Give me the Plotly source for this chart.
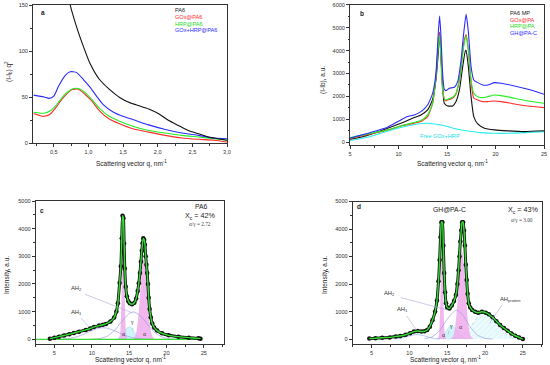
import plotly.graph_objects as go

W, H = 550, 365

# ---------------- Panel a data ----------------
a_q_pa6 = [0.66, 0.737, 0.83, 0.927, 1.02, 1.16, 1.30, 1.45, 1.59, 1.73, 1.87, 2.02, 2.16, 2.30, 2.44, 2.59, 2.73, 2.87, 3.0]
a_v_pa6 = [185, 150, 126, 105, 87, 69, 58.5, 49.5, 44, 40.5, 37, 31.6, 24.4, 19, 13.6, 10, 6.5, 4.7, 3]
a_q_blue = [0.21, 0.36, 0.43, 0.50, 0.57, 0.666, 0.737, 0.83, 0.927, 1.02, 1.116, 1.21, 1.35, 1.495, 1.64, 1.87, 2.11, 2.35, 2.59, 2.82, 3.0]
a_v_blue = [52, 50, 48.5, 51, 62, 73.6, 77.5, 76.5, 69, 61, 51, 42, 34, 29, 25.5, 19.7, 14.7, 10.8, 8.3, 5.4, 4.7]
a_q_red = [0.21, 0.29, 0.36, 0.45, 0.55, 0.64, 0.76, 0.855, 0.95, 1.045, 1.16, 1.30, 1.45, 1.64, 1.87, 2.11, 2.35, 2.59, 2.82, 3.0]
a_v_red = [32, 30, 29, 31.6, 40.6, 49.5, 57.8, 58.5, 53, 46, 35, 26, 20.8, 15.4, 11.8, 8.3, 5.4, 4, 3, 1]
a_q_green = [0.21, 0.36, 0.45, 0.55, 0.64, 0.76, 0.855, 0.95, 1.045, 1.16, 1.30, 1.45, 1.64, 1.87, 2.11, 2.35, 2.59, 2.82, 3.0]
a_v_green = [33.4, 32.3, 35, 42.4, 51.3, 58.5, 59.2, 55, 47.7, 37.7, 29, 23.7, 18.3, 13.6, 10.8, 8.3, 6.5, 4.7, 3]
a_names = ["PA6", "GOx@PA6", "HRP@PA6", "GOx+HRP@PA6"]
a_xticks = [0.5, 1.0, 1.5, 2.0, 2.5, 3.0]
a_xticktext = ["0,5", "1,0", "1,5", "2,0", "2,5", "3,0"]

# ---------------- Panel b data ----------------
b_q_black = [5, 6.1, 7.48, 8.86, 10.24, 11.28, 12.31, 13.0, 13.5, 13.86, 14.1, 14.24, 14.38, 14.55, 14.72, 15.07, 15.59, 15.93, 16.28, 16.62, 16.9, 16.97, 17.2, 17.48, 17.76, 18.17, 18.86, 19.9, 21.28, 23.0, 25]
b_v_black = [131, 218, 392, 610, 828, 1017, 1191, 1409, 1845, 2717, 3880, 4800, 3734, 2426, 1700, 1584, 1584, 1773, 2281, 3298, 4000, 4000, 3298, 1990, 1119, 799, 610, 538, 494, 465, 500]
b_q_blue = [5, 7.48, 8.86, 10.24, 10.93, 11.62, 12.31, 13.0, 13.52, 13.86, 14.1, 14.24, 14.38, 14.55, 14.72, 14.9, 15.24, 15.76, 16.1, 16.45, 16.72, 16.97, 17.2, 17.48, 17.76, 18.17, 18.69, 19.2, 19.9, 20.6, 21.97, 23.35, 25]
b_v_blue = [174, 465, 654, 973, 1119, 1191, 1337, 1627, 2136, 3008, 4751, 5500, 4606, 3008, 2310, 2252, 2354, 2397, 2644, 3589, 4751, 5580, 4824, 3298, 2717, 2600, 2499, 2499, 2600, 2572, 2455, 2310, 2092]
b_q_green = [5, 7.48, 8.86, 10.24, 11.28, 12.31, 13.0, 13.52, 13.86, 14.1, 14.24, 14.38, 14.55, 14.79, 15.07, 15.59, 15.93, 16.38, 16.72, 16.97, 17.2, 17.48, 17.76, 18.17, 18.69, 19.2, 19.9, 20.6, 21.97, 23.35, 25]
b_v_green = [203, 421, 538, 712, 828, 944, 1191, 1700, 2862, 4170, 4650, 3589, 2281, 1845, 1874, 1962, 2136, 3008, 4170, 4650, 4025, 2717, 2136, 1990, 1947, 1990, 2063, 2034, 1918, 1802, 1700]
b_q_red = [5, 7.48, 8.86, 10.24, 11.28, 12.31, 13.0, 13.52, 13.86, 14.1, 14.24, 14.38, 14.55, 14.79, 15.07, 15.59, 15.93, 16.38, 16.72, 16.97, 17.2, 17.48, 17.76, 18.17, 18.69, 19.2, 19.9, 20.6, 21.97, 23.35, 25]
b_v_red = [170, 392, 538, 712, 799, 900, 1119, 1700, 2862, 4315, 4750, 3661, 2281, 1816, 1845, 1932, 2107, 2979, 4315, 4700, 4025, 2644, 1918, 1845, 1773, 1773, 1802, 1773, 1671, 1584, 1511]
b_q_cyan = [5, 6.8, 8.17, 9.55, 10.93, 11.97, 13.0, 13.69, 14.38, 15.07, 16.1, 17.14, 18.52, 19.9, 21.28, 23.0, 25]
b_v_cyan = [73, 218, 392, 567, 712, 799, 828, 799, 755, 683, 567, 494, 421, 392, 392, 421, 465]
b_names = ["PA6 MP", "GOx@PA", "HRP@PA", "GH@PA-C"]

# ---------------- Panel c data ----------------
c_q = [4.4, 5.0, 5.6, 6.3, 7.0, 7.6, 8.3, 9.2, 9.8, 10.3, 11.0, 11.5, 11.9, 12.5, 13.0, 13.3, 13.5, 13.73, 13.9, 14.02, 14.12, 14.24, 14.33, 14.42, 14.55, 14.7, 14.9, 15.1, 15.4, 15.7, 15.95, 16.15, 16.3, 16.45, 16.58, 16.7, 16.8, 16.9, 17.02, 17.12, 17.22, 17.32, 17.42, 17.52, 17.62, 17.75, 17.9, 18.1, 18.35, 18.75, 19.4, 20.3, 21.6, 23.0, 24.3, 24.55]
c_v = [24, 60, 97, 140, 182, 230, 278, 339, 390, 448, 496, 525, 557, 642, 787, 1005, 1308, 2034, 2639, 3650, 4470, 4380, 3460, 2560, 1900, 1560, 1380, 1300, 1270, 1320, 1480, 1750, 2030, 2400, 2800, 3200, 3470, 3650, 3600, 3420, 3000, 2700, 2400, 2000, 1500, 1100, 800, 570, 430, 315, 218, 145, 97, 60, 36, 24]
c_base_q = [2.5, 24.6]
c_base_v = [0, 0]
c_alpha1_q = [13.6, 13.8, 13.9, 14.0, 14.1, 14.2, 14.3, 14.4, 14.5, 14.6, 14.8]
c_alpha1_v = [0, 210, 690, 1650, 2780, 3300, 2780, 1650, 690, 210, 0]
c_alpha2_q = [15.45, 15.75, 15.9, 16.05, 16.2, 16.35, 16.5, 16.65, 16.8, 16.95, 17.1, 17.25, 17.4, 17.55, 17.7, 17.85, 18.0, 18.15, 18.45]
c_alpha2_v = [11, 84, 191, 392, 722, 1189, 1760, 2320, 2743, 2900, 2743, 2320, 1760, 1189, 722, 392, 191, 84, 11]
c_gamma_q = [13.2, 13.5, 13.8, 14.1, 14.4, 14.7, 15.0, 15.3, 15.6, 15.9, 16.2, 16.5, 16.8]
c_gamma_v = [9, 32, 82, 172, 294, 405, 450, 405, 294, 172, 82, 32, 9]
c_ah2_q = [10, 11, 12, 13, 14, 15, 15.6, 16.5, 17.5, 18.5, 19.5, 20.5, 21.5]
c_ah2_v = [4, 25, 105, 307, 636, 930, 990, 861, 530, 231, 71, 16, 2]
c_ah1_q = [5, 6, 7, 8, 9, 10, 11, 11.5, 12, 13, 14, 15, 16, 17, 18]
c_ah1_v = [2, 10, 33, 91, 192, 317, 407, 420, 407, 317, 192, 91, 33, 10, 2]

# ---------------- Panel d data ----------------
d_q = [4.7, 5.5, 6.4, 7.4, 8.2, 8.8, 9.5, 10.1, 10.6, 11.1, 11.6, 12.0, 12.35, 12.7, 13.05, 13.4, 13.65, 13.85, 14.0, 14.12, 14.24, 14.36, 14.48, 14.6, 14.72, 14.85, 15.0, 15.3, 15.6, 15.9, 16.15, 16.35, 16.5, 16.62, 16.74, 16.86, 16.98, 17.1, 17.22, 17.34, 17.46, 17.58, 17.7, 17.85, 18.05, 18.3, 18.7, 19.1, 19.6, 20.1, 20.5, 21.0, 21.5, 22.0, 22.5, 23.0, 23.5, 24.0, 24.5, 25.0]
d_v = [20, 30, 48, 60, 96, 110, 157, 215, 270, 290, 275, 285, 330, 450, 680, 1000, 1400, 2100, 2870, 3700, 4250, 4250, 3400, 2400, 1700, 1300, 1150, 1110, 1220, 1380, 1600, 2000, 2500, 3000, 3550, 3950, 4250, 4250, 3950, 3400, 2700, 2150, 1650, 1300, 1150, 1060, 990, 960, 990, 960, 900, 790, 650, 510, 400, 300, 200, 120, 60, 0]
d_alpha1_q = [13.7, 13.9, 14.0, 14.1, 14.2, 14.3, 14.4, 14.5, 14.6, 14.7, 14.9]
d_alpha1_v = [0, 141, 550, 1466, 2633, 3200, 2633, 1466, 550, 141, 0]
d_alpha2_q = [15.45, 15.75, 15.9, 16.05, 16.2, 16.35, 16.5, 16.65, 16.8, 16.95, 17.1, 17.25, 17.4, 17.55, 17.7, 17.85, 18.0, 18.15, 18.45]
d_alpha2_v = [12, 93, 211, 432, 797, 1312, 1942, 2560, 3027, 3200, 3027, 2560, 1942, 1312, 797, 432, 211, 93, 12]
d_gamma_q = [13.5, 13.8, 14.1, 14.4, 14.7, 15.0, 15.3, 15.6, 15.9, 16.2, 16.5, 16.8, 17.1, 17.4, 17.7]
d_gamma_v = [5, 18, 50, 115, 219, 346, 456, 500, 456, 346, 219, 115, 50, 18, 5]
d_ah2_q = [12, 13, 14, 15, 16.2, 17, 18, 19, 20, 21]
d_ah2_v = [12, 77, 305, 727, 1050, 892, 459, 142, 26, 3]
d_prot_q = [15, 16, 17, 18, 19, 20, 21, 22, 23, 24, 25]
d_prot_v = [4, 28, 134, 407, 792, 990, 792, 407, 134, 28, 4]
d_ah1_q = [8, 9, 10, 11, 12, 13, 14]
d_ah1_v = [4, 33, 113, 170, 113, 33, 4]

# ---------------- figure ----------------
fig = go.Figure()
FONT = "Liberation Sans"
PINK = "rgba(240,165,235,0.8)"
CYANF = "rgba(185,240,245,0.7)"
LAV = "#9c9ce8"

def line(x, y, color, ax, width=1.1, shape="spline", smoothing=0.6, dash="solid"):
    fig.add_trace(go.Scatter(x=x, y=y, mode="lines", xaxis=ax[0], yaxis=ax[1],
                             line=dict(color=color, width=width, shape=shape, smoothing=smoothing, dash=dash),
                             showlegend=False, hoverinfo="skip"))

def area(x, y, fill, ax, lc="rgba(0,0,0,0)", lw=0.5, pattern=None, dash="solid"):
    kw = {}
    if pattern:
        kw["fillpattern"] = pattern
    fig.add_trace(go.Scatter(x=x, y=y, mode="lines", xaxis=ax[0], yaxis=ax[1], fill="tozeroy",
                             fillcolor=fill, line=dict(color=lc, width=lw, shape="spline", smoothing=0.6, dash=dash),
                             showlegend=False, hoverinfo="skip", **kw))

A = ("x", "y"); B = ("x2", "y2"); C = ("x3", "y3"); D = ("x4", "y4")

# panel a
line(a_q_red, a_v_red, "#ff2a2a", A)
line(a_q_green, a_v_green, "#22ee22", A)
line(a_q_blue, a_v_blue, "#2a2aff", A)
line(a_q_pa6, a_v_pa6, "#111111", A)

# panel b
line(b_q_cyan, b_v_cyan, "#22eeee", B)
line(b_q_black, b_v_black, "#111111", B, smoothing=0.5)
line(b_q_red, b_v_red, "#ff2a2a", B, smoothing=0.5)
line(b_q_green, b_v_green, "#22ee22", B, smoothing=0.5)
line(b_q_blue, b_v_blue, "#2a2aff", B, smoothing=0.5)

# panel c
area(c_gamma_q, c_gamma_v, CYANF, C, lc="rgba(120,215,230,0.8)")
area(c_alpha1_q, c_alpha1_v, PINK, C)
area(c_alpha2_q, c_alpha2_v, PINK, C)
line(c_ah1_q, c_ah1_v, LAV, C, width=0.7)
line(c_ah2_q, c_ah2_v, LAV, C, width=0.7)
line(c_base_q, c_base_v, "#33dd33", C, width=1.2, shape="linear")
fig.add_trace(go.Scatter(x=c_q, y=c_v, mode="lines+markers", xaxis="x3", yaxis="y3",
                         line=dict(color="#111", width=3, shape="spline", smoothing=0.5),
                         marker=dict(color="#111", size=4.5),
                         showlegend=False, hoverinfo="skip"))
line(c_q, c_v, "#33dd33", C, width=1.4, smoothing=0.5)

# panel d
area(d_prot_q, d_prot_v, "rgba(215,245,250,0.5)", D, lc="#7fd0e6", lw=0.6,
     pattern=dict(shape="/", fgcolor="#8fe0ea", bgcolor="rgba(225,248,252,0.6)", size=4, solidity=0.15), dash="dot")
area(d_gamma_q, d_gamma_v, CYANF, D, lc="rgba(120,215,230,0.8)")
area(d_alpha1_q, d_alpha1_v, PINK, D)
area(d_alpha2_q, d_alpha2_v, PINK, D)
line(d_ah1_q, d_ah1_v, "#8fb4ee", D, width=0.7)
line(d_ah2_q, d_ah2_v, LAV, D, width=0.7)
fig.add_trace(go.Scatter(x=d_q, y=d_v, mode="lines+markers", xaxis="x4", yaxis="y4",
                         line=dict(color="#111", width=3, shape="spline", smoothing=0.5),
                         marker=dict(color="#111", size=4.5),
                         showlegend=False, hoverinfo="skip"))
line(d_q, d_v, "#33dd33", D, width=1.4, smoothing=0.5)

# ---------------- axes ----------------
def px(x0, x1):
    return [x0 / W, x1 / W]

def py(top, bottom):
    return [1 - bottom / H, 1 - top / H]

tickfont = dict(family=FONT, size=5.6, color="#333")
def axstyle(**kw):
    d = dict(showline=True, linecolor="#333", linewidth=0.8, mirror=True, ticks="outside",
             ticklen=3, tickwidth=0.7, tickcolor="#333", showgrid=False, zeroline=False,
             tickfont=tickfont, automargin=False)
    d.update(kw)
    return d

def minor(dt):
    return dict(dtick=dt, ticks="outside", ticklen=1.6, tickwidth=0.6, tickcolor="#333", showgrid=False)

fig.update_layout(
    width=W, height=H, margin=dict(l=0, r=0, t=0, b=0),
    paper_bgcolor="white", plot_bgcolor="white", showlegend=False,
    xaxis=axstyle(domain=px(33, 227), anchor="y", range=[0.2, 3.0], tickvals=a_xticks, ticktext=a_xticktext, minor=minor(0.25)),
    yaxis=axstyle(domain=py(5, 143), anchor="x", range=[0, 150], dtick=50, minor=minor(25)),
    xaxis2=axstyle(domain=px(350, 544), anchor="y2", range=[5, 25], dtick=5, minor=minor(2.5)),
    yaxis2=axstyle(domain=py(4.7, 145), anchor="x2", range=[-120, 6000], dtick=1000, tick0=0, minor=minor(500)),
    xaxis3=axstyle(domain=px(35.7, 224), anchor="y3", range=[2.5, 27.7], dtick=5, tick0=0, minor=minor(2.5)),
    yaxis3=axstyle(domain=py(201, 344.3), anchor="x3", range=[-180, 5000], dtick=1000, tick0=0, minor=minor(500)),
    xaxis4=axstyle(domain=px(352.7, 541.7), anchor="y4", range=[2.5, 27.5], dtick=5, tick0=0, minor=minor(2.5)),
    yaxis4=axstyle(domain=py(201.5, 344), anchor="x4", range=[-180, 5000], dtick=1000, tick0=0, minor=minor(500)),
)

ann = []
def ptext(x, y, text, size=6.5, angle=0, color="#222", family=FONT, xanchor="center"):
    ann.append(dict(x=x / W, y=1 - y / H, xref="paper", yref="paper", text=text, showarrow=False,
                    textangle=angle, font=dict(family=family, size=size, color=color), xanchor=xanchor, yanchor="middle"))

xt = "Scattering vector q, nm<sup>-1</sup>"
ptext(131, 163, xt)
ptext(452, 163, xt)
ptext(130.5, 359, xt)
ptext(445.7, 359, xt)
ptext(9, 72, "(I-I<sub>b</sub>) q<sup>2</sup>", angle=-90)
ptext(323, 80, "(I-Ib), a.u.", angle=-90)
ptext(7, 275, "Intensity, a.u.", angle=-90)
ptext(325, 275, "Intensity, a.u.", angle=-90)

# panel letters
ptext(43, 13, "<b>a</b>", size=6.5)
ptext(362, 13.3, "<b>b</b>", size=6.5)
ptext(42.3, 210.7, "<b>c</b>", size=6.5)
ptext(359, 206.7, "<b>d</b>", size=6.5)

# legends (coloured text)
a_cols = ["#222222", "#ff2a2a", "#22dd22", "#2a2aff"]
for name, col, yy in zip(a_names, a_cols, [10.3, 16.8, 23.5, 30.2]):
    ptext(172.5, yy, name, size=5.6, color=col, xanchor="left")
for name, col, yy in zip(b_names, a_cols, [13.3, 19.8, 26.2, 33.0]):
    ptext(508, yy, name, size=5.6, color=col, xanchor="left")
ptext(440, 136, "Free GOx+HRP", size=5.6, color="#22dddd")

# panel c texts
ptext(201.5, 206.5, "PA6", size=6.8)
ptext(200, 215.5, "X<sub>c</sub> = 42%", size=7.2)
ptext(200, 224, "α/γ = 2.72", size=5.3, family="Liberation Serif", color="#444")
# panel d texts
ptext(449, 209.3, "GH@PA-C", size=6.8)
ptext(523, 210, "X<sub>c</sub> = 43%", size=7.2)
ptext(522, 220, "α/γ = 3.00", size=5.3, family="Liberation Serif", color="#444")

def dtext(xr, yr, x, y, text, size=5.8, family=FONT):
    ann.append(dict(x=x, y=y, xref=xr, yref=yr, text=text, showarrow=False,
                    font=dict(family=family, size=size, color="#333")))

def leader(xr, yr, x0, y0, x1, y1):
    ann.append(dict(x=x1, y=y1, ax=x0, ay=y0, xref=xr, yref=yr, axref=xr, ayref=yr, text="",
                    showarrow=True, arrowhead=0, arrowwidth=0.6, arrowcolor="#a8a8d8", standoff=0, startstandoff=0))

# c labels
dtext("x3", "y3", 8.0, 1820, "AH<sub>2</sub>")
leader("x3", "y3", 8.9, 1650, 15.5, 950)
dtext("x3", "y3", 7.9, 980, "AH<sub>1</sub>")
leader("x3", "y3", 8.4, 820, 9.6, 450)
dtext("x3", "y3", 14.2, 200, "α", family="Liberation Serif")
dtext("x3", "y3", 17.1, 200, "α", family="Liberation Serif")
dtext("x3", "y3", 15.45, 620, "γ", family="Liberation Serif")
leader("x3", "y3", 15.5, 480, 15.5, 330)
# d labels
dtext("x4", "y4", 7.4, 1660, "AH<sub>2</sub>")
leader("x4", "y4", 8.7, 1520, 15.1, 1050)
dtext("x4", "y4", 9.1, 1060, "AH<sub>1</sub>")
leader("x4", "y4", 9.5, 900, 10.95, 330)
dtext("x4", "y4", 23.3, 1440, "AH<sub>protein</sub>")
leader("x4", "y4", 22.4, 1300, 20.6, 570)
dtext("x4", "y4", 14.47, 150, "α", family="Liberation Serif")
dtext("x4", "y4", 16.8, 450, "α", family="Liberation Serif")
dtext("x4", "y4", 15.45, 480, "γ", family="Liberation Serif")
leader("x4", "y4", 15.3, 360, 15.1, 150)

fig.update_layout(annotations=ann)
fig.write_html("out.html", config=dict(displayModeBar=False),
               post_script="document.body.style.margin='0';document.body.style.padding='0';")
